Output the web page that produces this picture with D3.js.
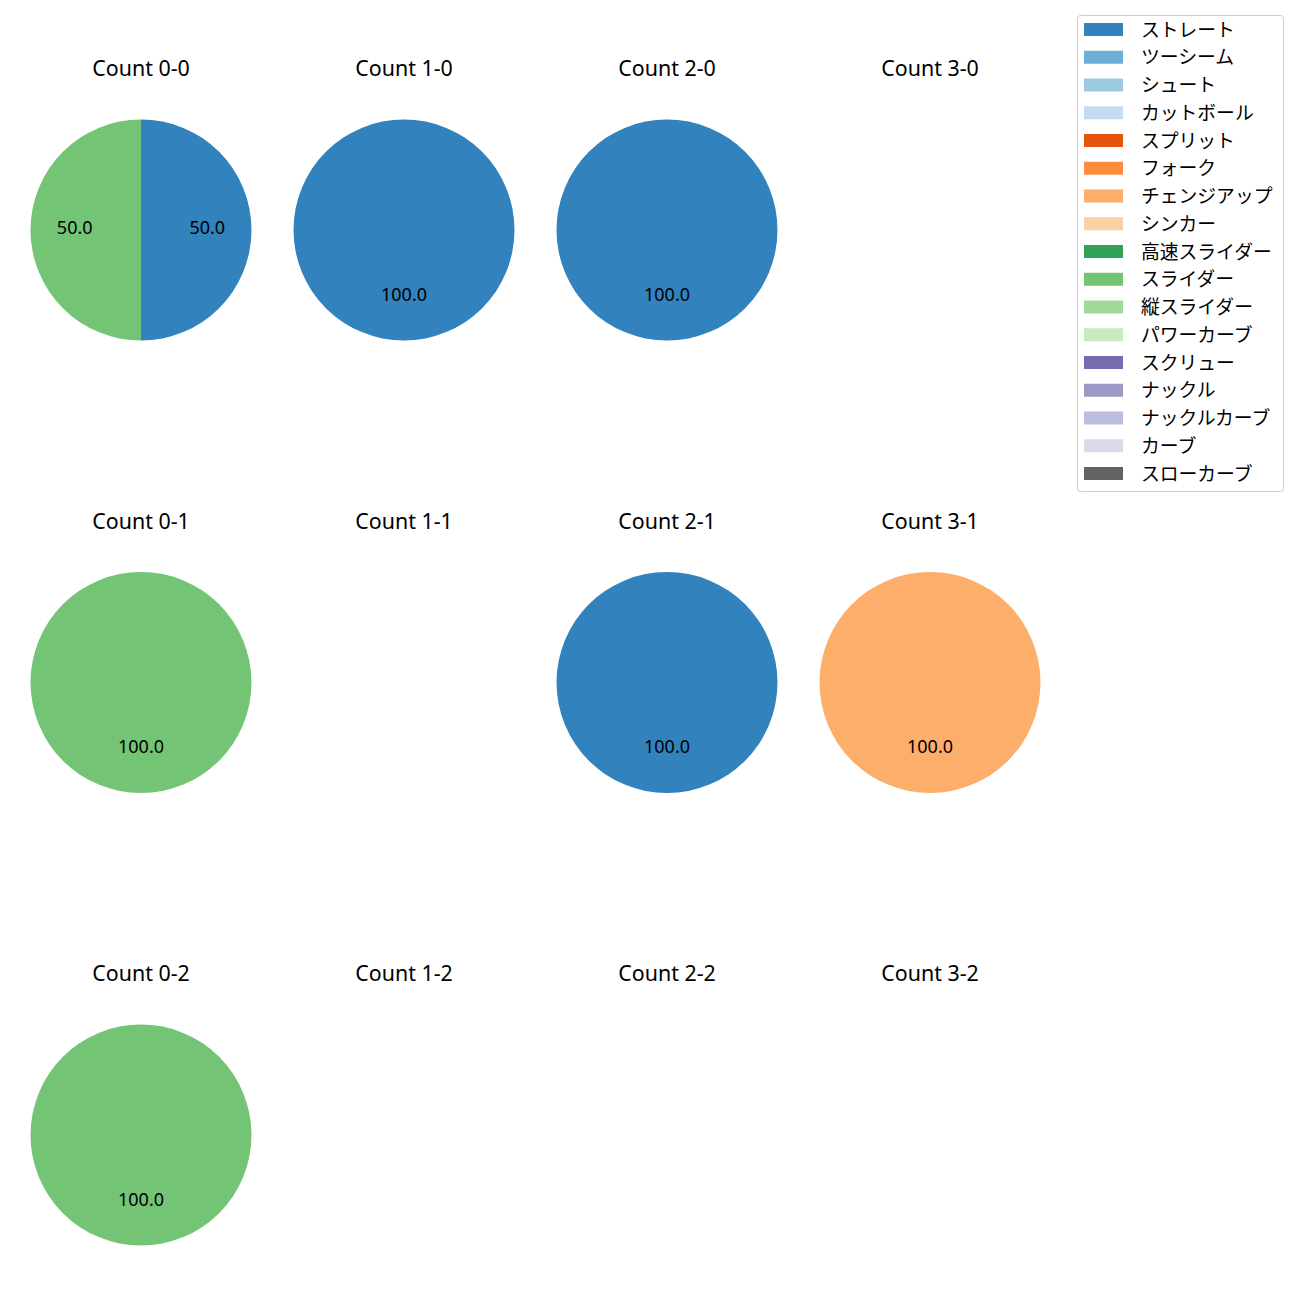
<!DOCTYPE html>
<html>
<head>
<meta charset="utf-8">
<script src="https://cdn.jsdelivr.net/npm/d3@7"></script>
<style>
  html, body { margin: 0; padding: 0; background: #fff; }
  svg { display: block; font-family: "Noto Sans", "Noto Sans CJK JP", sans-serif; }
</style>
</head>
<body>
<svg id="chart" width="1300" height="1300"></svg>
<script>
// Pitch types (legend order)
const pitchTypes = ["ストレート","ツーシーム","シュート","カットボール","スプリット","フォーク","チェンジアップ","シンカー","高速スライダー","スライダー","縦スライダー","パワーカーブ","スクリュー","ナックル","ナックルカーブ","カーブ","スローカーブ"];
const pitchColors = ["#3182bd","#6baed6","#9ecae1","#c6dbef","#e6550d","#fd8d3c","#fdae6b","#fdd0a2","#31a354","#74c476","#a1d99b","#c7e9c0","#756bb1","#9e9ac8","#bcbddc","#dadaeb","#636363"];

// Panels, row by row (strikes 0..2), columns = balls 0..3
const panelTitles = ["Count 0-0","Count 1-0","Count 2-0","Count 3-0",
                     "Count 0-1","Count 1-1","Count 2-1","Count 3-1",
                     "Count 0-2","Count 1-2","Count 2-2","Count 3-2"];
// Percent share per panel for each pitch type that appears
const straightShare  = [50,100,100,0,   0,0,100,0,   0,0,0,0];
const sliderShare    = [50,0,0,0,     100,0,0,0,   100,0,0,0];
const changeupShare  = [0,0,0,0,       0,0,0,100,  0,0,0,0];

const panelValues = panelTitles.map((t, i) => pitchTypes.map(p => {
  if (p === "ストレート") return straightShare[i];
  if (p === "スライダー") return sliderShare[i];
  if (p === "チェンジアップ") return changeupShare[i];
  return 0;
}));

const svg = d3.select("#chart");
const colScale = d3.scaleLinear().domain([0, 3]).range([141, 930]);
const rowScale = d3.scaleLinear().domain([0, 2]).range([230, 1135]);
const color = d3.scaleOrdinal().domain(pitchTypes).range(pitchColors);
const R = 110.5;

const pie = d3.pie().sort(null).value(d => d.v).startAngle(0).endAngle(2 * Math.PI);
const arc = d3.arc().innerRadius(0).outerRadius(R);
const labelArc = d3.arc().innerRadius(R * 0.6).outerRadius(R * 0.6);

panelTitles.forEach((title, i) => {
  const col = i % 4, row = Math.floor(i / 4);
  const g = svg.append("g").attr("transform", `translate(${colScale(col)},${rowScale(row)})`);
  g.append("text")
    .attr("x", 0).attr("y", -154)
    .attr("text-anchor", "middle")
    .attr("font-size", "21.4px").attr("fill", "#000")
    .text(title);
  const data = pitchTypes.map((p, k) => ({ p, v: panelValues[i][k] }));
  const total = d3.sum(data, d => d.v);
  if (total <= 0) return;
  const arcs = pie(data).filter(d => d.data.v > 0);
  g.selectAll("path.slice").data(arcs).join("path")
    .attr("class", "slice")
    .attr("d", arc)
    .attr("fill", d => color(d.data.p));
  g.selectAll("text.pct").data(arcs).join("text")
    .attr("class", "pct")
    .attr("transform", d => `translate(${labelArc.centroid(d)})`)
    .attr("text-anchor", "middle").attr("dy", "0.24em")
    .attr("font-size", "18px").attr("fill", "#000")
    .text(d => (d.data.v / total * 100).toFixed(1));
});

// Legend
const lg = svg.append("g");
const legX = 1077, legY = 15, legW = 206, legH = 476;
lg.append("rect")
  .attr("x", legX + 0.5).attr("y", legY + 0.5)
  .attr("width", legW).attr("height", legH)
  .attr("rx", 3).attr("fill", "#fff").attr("fill-opacity", 0.8)
  .attr("stroke", "#cccccc").attr("stroke-width", 1);
const legRow = d3.scaleLinear().domain([0, pitchTypes.length - 1]).range([29.5, 473.5]);
pitchTypes.forEach((p, k) => {
  const y = legRow(k);
  lg.append("rect")
    .attr("x", 1084).attr("y", y - 6.5)
    .attr("width", 39).attr("height", 13)
    .attr("fill", color(p));
  lg.append("text")
    .attr("x", 1141).attr("y", y - 1.5)
    .attr("dominant-baseline", "central")
    .attr("font-family", "'Noto Sans CJK JP', 'Noto Sans', sans-serif")
    .attr("font-size", "18.8px").attr("fill", "#000")
    .text(p);
});
</script>
</body>
</html>
